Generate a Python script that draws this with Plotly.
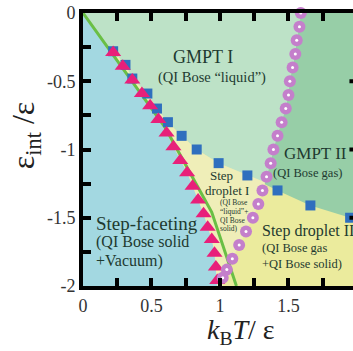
import plotly.graph_objects as go

# ---------------- data ----------------
# triangles (step-faceting boundary)
tri_x = [0.22, 0.29, 0.36, 0.43, 0.49, 0.55, 0.61, 0.66, 0.71, 0.76, 0.80, 0.84, 0.88, 0.91, 0.94, 0.96, 0.97, 0.98]
tri_y = [-0.29, -0.39, -0.49, -0.59, -0.68, -0.78, -0.88, -0.98, -1.08, -1.17, -1.27, -1.37, -1.47, -1.57, -1.66, -1.76, -1.86, -1.96]

# squares (GMPT / step droplet boundary)
sq_x = [0.22, 0.31, 0.36, 0.47, 0.54, 0.62, 0.72, 0.83, 0.99, 1.20, 1.42, 1.66, 1.95]
sq_y = [-0.28, -0.38, -0.48, -0.59, -0.70, -0.80, -0.90, -1.00, -1.10, -1.19, -1.30, -1.41, -1.50]

# circles (GMPT I / GMPT II boundary)
circ_x = [1.59, 1.58, 1.56, 1.55, 1.53, 1.51, 1.50, 1.48, 1.45, 1.42, 1.39, 1.37, 1.34, 1.31, 1.28, 1.24, 1.19, 1.14, 1.09, 1.05, 1.02]
circ_y = [0.0, -0.1, -0.2, -0.3, -0.4, -0.5, -0.6, -0.7, -0.8, -0.9, -1.0, -1.1, -1.2, -1.3, -1.4, -1.5, -1.6, -1.7, -1.8, -1.88, -1.94]

# green line
gl_x = [0.0, 0.20, 0.60, 0.94, 1.12]
gl_y = [0.0, -0.28, -0.84, -1.46, -2.0]

# region boundary helper points
x_min, x_max_frame = 0.0, 2.0
y_min, y_max = -2.0, 0.0
sq_edge_y = -1.52          # squares boundary meets right frame
cross_x, cross_y = 1.33, -1.24   # squares boundary crosses circles line
n_sq_left = 10             # squares left of circle line

# axes
x_tickvals = [0, 0.5, 1.0, 1.5]
x_ticktext = ["0", "0.5", "1", "1.5"]
y_tickvals = [-2, -1.5, -1, -0.5, 0]
y_ticktext = ["-2", "-1.5", "-1", "-0.5", "0"]
minor_step = 0.25
y_major = [-1.5, -1.0, -0.5]
x_range = [0, 1.971]

# colours
c_blue = "#a3d8e1"
c_gmpt1 = "#bde2c7"
c_gmpt2 = "#97cea7"
c_yel2 = "#ebeb9d"
c_yel1 = "#efeeb8"
c_green = "#6abf45"
c_tri = "#e8207a"
c_sq = "#2f6fbe"
c_circ = "#c47fcb"
txt = "#1e3a30"
SERIF = "Liberation Serif, Times New Roman, serif"

fig = go.Figure()

def poly(xs, ys, color):
    fig.add_trace(go.Scatter(x=xs, y=ys, fill="toself", fillcolor=color, mode="lines",
                             line=dict(width=0, color=color), hoverinfo="skip", showlegend=False))

# GMPT II (right of circle line)
poly(circ_x + [circ_x[-1], x_max_frame, x_max_frame], circ_y + [y_min, y_min, y_max], c_gmpt2)
# Step droplet II (below squares)
poly(sq_x + [x_max_frame, x_max_frame, x_min], sq_y + [sq_edge_y, y_min, y_min], c_yel2)
# Step droplet I (left of circle line, below squares)
lower_cx = [cx for cx, cy in zip(circ_x, circ_y) if cy < cross_y]
lower_cy = [cy for cy in circ_y if cy < cross_y]
poly(sq_x[:n_sq_left] + [cross_x] + lower_cx + [lower_cx[-1], x_min],
     sq_y[:n_sq_left] + [cross_y] + lower_cy + [y_min, y_min], c_yel1)
# Step-faceting (left of triangles)
poly([x_min] + tri_x + [tri_x[-1], x_min], [y_max] + tri_y + [y_min, y_min], c_blue)

# green line
fig.add_trace(go.Scatter(x=gl_x, y=gl_y, mode="lines", line=dict(color=c_green, width=3),
                         hoverinfo="skip", showlegend=False))
# squares
fig.add_trace(go.Scatter(x=sq_x, y=sq_y, mode="markers",
                         marker=dict(symbol="square", size=10, color=c_sq, line=dict(width=0)),
                         showlegend=False))
# triangles
fig.add_trace(go.Scatter(x=tri_x, y=tri_y, mode="markers",
                         marker=dict(symbol="triangle-up", size=14, color=c_tri, line=dict(width=0)),
                         showlegend=False))
# circles
fig.add_trace(go.Scatter(x=circ_x, y=circ_y, mode="markers", cliponaxis=False,
                         marker=dict(symbol="circle", size=12, color=c_circ, line=dict(width=0)),
                         showlegend=False))
fig.add_trace(go.Scatter(x=circ_x, y=circ_y, mode="markers", cliponaxis=False,
                         marker=dict(symbol="circle", size=3, color="white", line=dict(width=0)),
                         showlegend=False))

# right-side (clipped) frame ticks
for yv in y_major:
    fig.add_shape(type="line", xref="x", yref="y", x0=1.945, x1=x_range[1], y0=yv, y1=yv,
                  line=dict(color="black", width=4))

# ---------------- text ----------------
def label(x, y, text, size, anchor="center"):
    fig.add_annotation(x=x, y=y, xref="x", yref="y", text=text, showarrow=False,
                       xanchor=anchor, yanchor="middle",
                       font=dict(family=SERIF, size=size, color=txt))

label(0.876, -0.32, "GMPT I", 18)
label(0.94, -0.47, "(QI Bose \u201cliquid\u201d)", 14.5)
label(1.70, -1.03, "GMPT II", 17)
label(1.64, -1.17, "(QI Bose gas)", 12.5)
label(1.29, -1.60, "Step droplet II", 16, "left")
label(1.29, -1.72, "(QI Bose gas", 12.5, "left")
label(1.29, -1.84, "+QI Bose solid)", 12.5, "left")
label(0.08, -1.54, "Step-faceting", 19, "left")
label(0.08, -1.68, "(QI Bose solid", 16, "left")
label(0.08, -1.82, "+Vacuum)", 16, "left")
label(1.01, -1.19, "Step", 13)
label(1.05, -1.30, "droplet I", 13)
label(0.985, -1.385, "(QI Bose", 7.5, "left")
label(0.985, -1.455, "\u201cliquid\u201d+", 7.5, "left")
label(0.985, -1.52, "QI Bose", 7.5, "left")
label(0.985, -1.58, "solid)", 7.5, "left")

# axis titles
fig.add_annotation(xref="paper", yref="paper", x=-0.21, y=0.55, text="\u03b5<sub>int</sub> /\u03b5",
                   textangle=-90, showarrow=False, xanchor="center", yanchor="middle",
                   font=dict(family=SERIF, size=32, color="#222"))
fig.add_annotation(xref="paper", yref="paper", x=0.585, y=-0.165,
                   text="<i>k</i><sub>B</sub><i>T</i>/ \u03b5",
                   showarrow=False, xanchor="center", yanchor="middle",
                   font=dict(family=SERIF, size=28, color="#222"))

minor = dict(ticks="inside", dtick=minor_step, tick0=0, ticklen=8, tickwidth=4, tickcolor="black",
             showgrid=False)
axis_common = dict(showline=True, linewidth=4, linecolor="black", ticks="inside",
                   ticklen=8, tickwidth=4, tickcolor="black", showgrid=False, zeroline=False,
                   automargin=False, minor=minor,
                   tickfont=dict(family=SERIF, size=18, color="#333"))
fig.update_xaxes(range=x_range, tickvals=x_tickvals, ticktext=x_ticktext, mirror="ticks", **axis_common)
fig.update_yaxes(range=[y_min, y_max], tickvals=y_tickvals, ticktext=y_ticktext, mirror=False,
                 **axis_common)

fig.update_layout(width=353, height=351, autosize=False,
                  margin=dict(l=83, r=0, t=13, b=65),
                  plot_bgcolor=c_gmpt1, paper_bgcolor="white", showlegend=False)

fig.write_html("out.html", config={"displayModeBar": False},
               post_script="document.body.style.margin='0';document.body.style.overflow='hidden';")
